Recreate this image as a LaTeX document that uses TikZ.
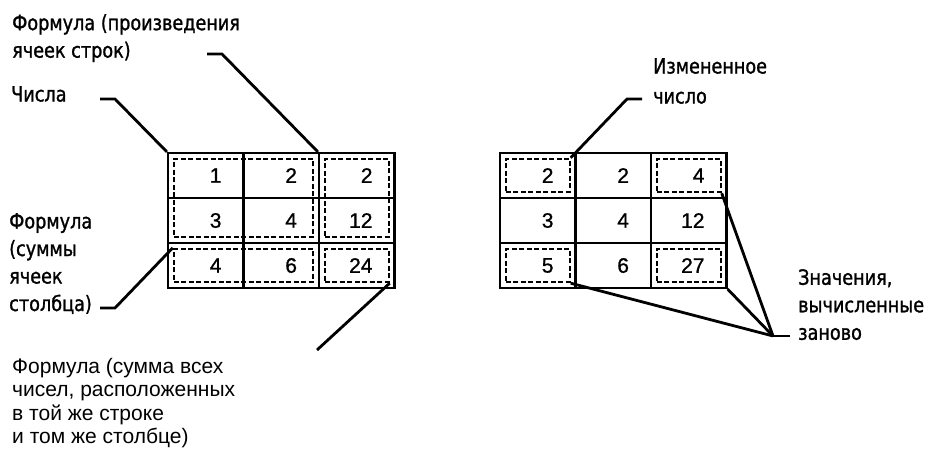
\documentclass[tikz,border=0pt]{standalone}
\usepackage{fontspec}
\setmainfont[FakeStretch=0.84, FakeBold=1.2]{DejaVu Sans}
\newfontfamily\numfont[FakeBold=1]{Liberation Sans}
\newfontfamily\notefont{Liberation Sans}
\usetikzlibrary{fit}
\begin{document}
\begin{tikzpicture}[x=1pt, y=-1pt,
  cell/.style={draw, line width=2.2pt, minimum width=75.5pt, minimum height=45pt, text width=31.5pt, inner xsep=22pt, inner ysep=0pt, align=right, font=\numfont\fontsize{21}{21}\selectfont},
  dbox/.style={draw, line width=2.2pt, dash pattern=on 5pt off 2.5pt, inner sep=-7pt},
  lbl/.style={anchor=north west, inner sep=0pt, align=left, font=\fontsize{21}{27.5}\selectfont},
  note/.style={anchor=north west, inner sep=0pt, align=left, font=\notefont\fontsize{21}{23.5}\selectfont},
  leader/.style={draw, line width=2.8pt}]
  \useasboundingbox (0,0) rectangle (934,457);
  % left table
  \foreach \r/\y/\a/\b/\c in {1/175.5/1/2/2, 2/220.5/3/4/12, 3/265.5/4/6/24} {
    \node[cell] (l\r1) at (205.75,\y) {\a};
    \node[cell] (l\r2) at (281.25,\y) {\b};
    \node[cell] (l\r3) at (356.75,\y) {\c};
  }
  \node[dbox, fit=(l11)(l22)] (lnum) {};
  \node[dbox, fit=(l13)(l23)] (lprod) {};
  \node[dbox, fit=(l31)(l32)] (lsum) {};
  \node[dbox, fit=(l33)] (ltot) {};
  % right table
  \foreach \r/\y/\a/\b/\c in {1/175.5/2/2/4, 2/220.5/3/4/12, 3/265.5/5/6/27} {
    \node[cell] (r\r1) at (537.75,\y) {\a};
    \node[cell] (r\r2) at (613.25,\y) {\b};
    \node[cell] (r\r3) at (688.75,\y) {\c};
  }
  \node[dbox, fit=(r11)] (rchg) {};
  \node[dbox, fit=(r13)] (rprod) {};
  \node[dbox, fit=(r31)] (rsum) {};
  \node[dbox, fit=(r33)] (rtot) {};
  % labels
  \node[lbl] (prod) at (12,14) {Формула (произведения\\ячеек строк)};
  \node[lbl] (chisla) at (11,86) {Числа};
  \node[lbl] (summ) at (9,213) {Формула\\(суммы\\ячеек\\столбца)};
  \node[note] (vse) at (12,358) {Формула (сумма всех\\чисел, расположенных\\в той же строке\\и том же столбце)};
  \node[lbl, font=\fontsize{21}{30}\selectfont] (izm) at (653,58) {Измененное\\число};
  \node[lbl] (znach) at (798,269) {Значения,\\вычисленные\\заново};
  % leaders
  \coordinate (kprod) at (207,54);
  \coordinate (kchisla) at (100,99);
  \coordinate (ksumm) at (100,308);
  \coordinate (kvse) at (317,350);
  \coordinate (kizm) at (642,99);
  \coordinate (kznach) at (790,336);
  \draw[leader] (kchisla) -- ++(15,0) -- (l11.north west);
  \draw[leader] (kprod) -- ++(15,0) -- (l13.north west);
  \draw[leader] (ksumm) -- ++(15,0) -- (lsum.north west);
  \draw[leader] (kvse) -- (ltot.south east);
  \draw[leader] (kizm) -- ++(-15,0) -- (rchg.north east);
  \draw[leader] (kznach) -- ++(-17,0) coordinate (kfan);
  \draw[leader] (kfan) -- (rprod.south east);
  \draw[leader] (kfan) -- (r33.south east);
  \draw[leader] (kfan) -- (rsum.south east);
\end{tikzpicture}
\end{document}
